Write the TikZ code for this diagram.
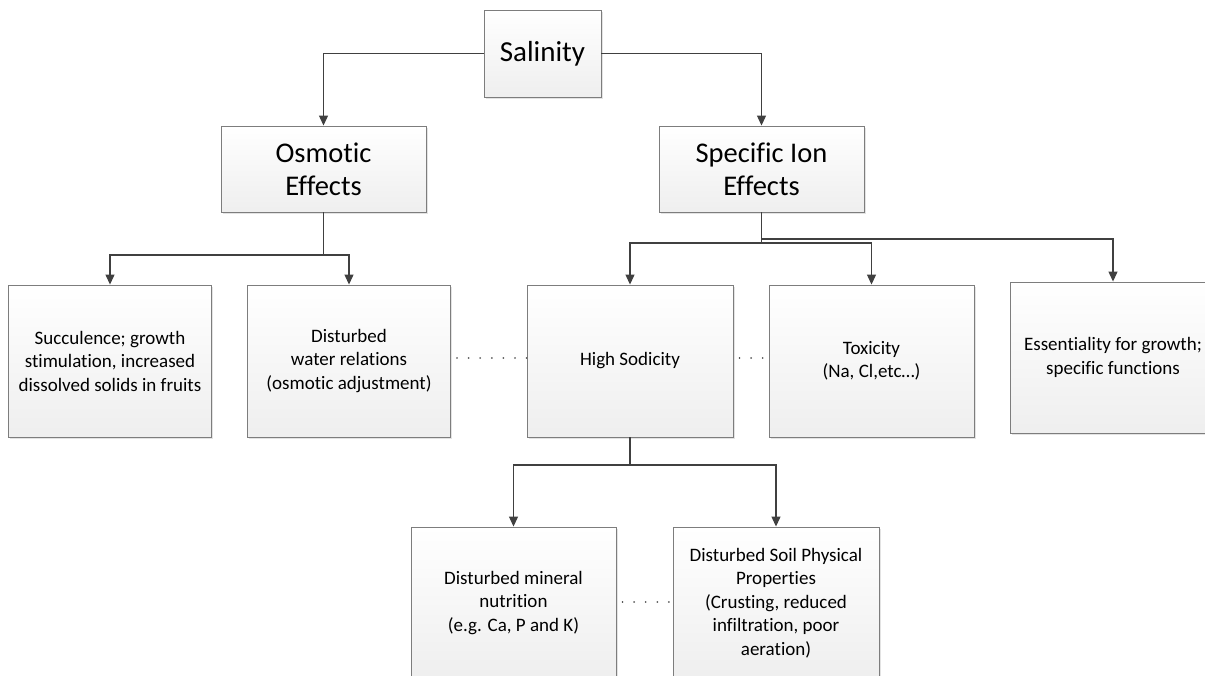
\documentclass[tikz,border=0pt]{standalone}
\usepackage{fontspec}
\setmainfont{Carlito}[Ligatures=NoCommon]
\usetikzlibrary{arrows.meta,shadows}
\definecolor{boxline}{RGB}{125,125,125}
\definecolor{conn}{RGB}{64,64,64}
\definecolor{dotc}{RGB}{90,90,90}
\begin{document}
\begin{tikzpicture}[x=1pt,y=1pt,
  box/.style={draw=boxline, line width=0.9pt, top color=white, bottom color=gray!13,
    drop shadow={shadow xshift=1.5pt,shadow yshift=-1.5pt,opacity=0.22},
    align=center, inner sep=2pt, font=\fontsize{19}{23.5}\selectfont},
  bigbox/.style={box, font=\fontsize{28.5}{33}\selectfont},
  arr/.style={draw=conn, line width=1.2pt, -{Triangle[length=10pt,width=9pt]}},
  link/.style={draw=conn, line width=1.2pt},
  dots/.style={draw=dotc, line width=1.8pt, line cap=round, dash pattern=on 0.1pt off 11.5pt}]
\useasboundingbox (0,0) rectangle (1205,-675);

% top levels
\node[bigbox, font=\fontsize{29}{33}\selectfont, minimum width=117pt, minimum height=87pt] (sal) at (542.5,-53.5) {Salinity};
\node[bigbox, minimum width=205pt, minimum height=86pt] (osm) at (323.5,-169) {Osmotic\\Effects};
\node[bigbox, minimum width=205pt, minimum height=86pt] (spec) at (761.5,-169) {Specific Ion\\Effects};

% second row
\node[box, minimum width=203pt, minimum height=152pt] (succ) at (110,-361) {Succulence; growth\\stimulation, increased\\dissolved solids in fruits};
\node[box, minimum width=203pt, minimum height=152pt] (water) at (349,-361) {Disturbed\\water relations\\(osmotic adjustment)};
\node[box, minimum width=206pt, minimum height=152pt] (sod) at (630,-361) {High Sodicity};
\node[box, minimum width=205pt, minimum height=152pt] (tox) at (871.5,-361) {Toxicity\\(Na, Cl,etc…)};
\node[box, minimum width=206pt, minimum height=151pt] (ess) at (1113,-357.5) {Essentiality for growth;\\specific functions};

% third row
\node[box, minimum width=205pt, minimum height=152pt] (min) at (513.5,-603) {Disturbed mineral\\nutrition\\(e.g. Ca, P and K)};
\node[box, minimum width=206pt, minimum height=152pt] (soil) at (776,-603) {Disturbed Soil Physical\\Properties\\(Crusting, reduced\\infiltration, poor\\aeration)};

% junction points
\coordinate (ob) at (323.5,-255);
\coordinate (sb1) at (761.5,-243);
\coordinate (sb2) at (761.5,-239);
\coordinate (hb) at (630,-465);

% connectors
\draw[arr] (sal.west) -| (osm.north);
\draw[arr] (sal.east) -| (spec.north);
\draw[link] (osm.south) -- (ob);
\draw[arr] (ob) -| (succ.north);
\draw[arr] (ob) -| (water.north);
\draw[link] (spec.south) -- (sb1);
\draw[arr] (sb1) -| (sod.north);
\draw[arr] (sb1) -| (tox.north);
\draw[arr] (sb2) -| (ess.north);
\draw[link] (sod.south) -- (hb);
\draw[arr] (hb) -| (min.north);
\draw[arr] (hb) -| (soil.north);

% dotted relations
\draw[dots] ([yshift=3pt,xshift=6pt]water.east) -- ([yshift=3pt]sod.west);
\draw[dots] ([yshift=3pt,xshift=6pt]sod.east) -- ([yshift=3pt]tox.west);
\draw[dots] ([yshift=1pt,xshift=6pt]min.east) -- ([yshift=1pt]soil.west);
\end{tikzpicture}
\end{document}
